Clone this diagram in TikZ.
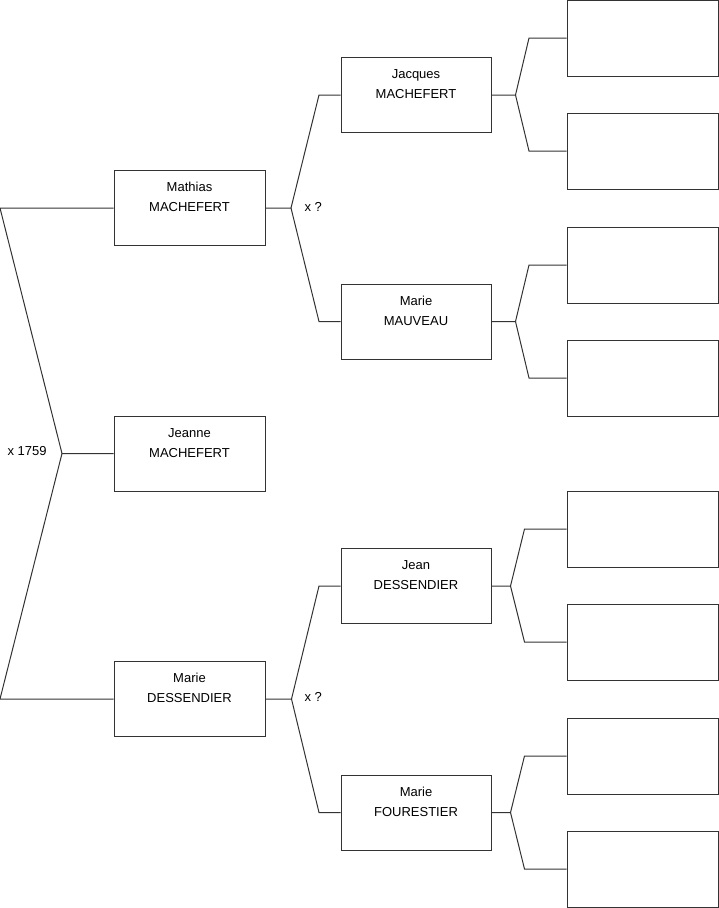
\documentclass[tikz,border=0pt]{standalone}
\usepackage{fontspec}
\setmainfont{Liberation Sans}
\usepackage{tikz}
\usetikzlibrary{positioning}

\begin{document}
\begin{tikzpicture}[x=1pt,y=-1pt,line width=1pt,
  every node/.style={font=\fontsize{13}{20}\selectfont},
  box/.style={draw=black!80,minimum width=151pt,minimum height=75pt,inner sep=0pt},
  who/.style={align=center,inner sep=0pt},
  link/.style={draw=black!80},
  union/.style={anchor=west,inner sep=0pt}]
\useasboundingbox (0,0) rectangle (719,908);
% generation 1 and 2
\node[box] (jeanne) at (189.5,453.5) {};
\node[who] (jeanneT) at ([yshift=10pt]jeanne.center) {Jeanne\\MACHEFERT};
\node[box] (mathias) at (189.5,208) {};
\node[who] (mathiasT) at ([yshift=11pt]mathias.center) {Mathias\\MACHEFERT};
\node[box] (mdess) at (189.5,699) {};
\node[who] (mdessT) at ([yshift=11pt]mdess.center) {Marie\\DESSENDIER};
% generation 3
\node[box,minimum width=150pt] (jacques) at (416,95) {};
\node[who] (jacquesT) at ([yshift=11pt]jacques.center) {Jacques\\MACHEFERT};
\node[box,minimum width=150pt] (mauveau) at (416,321.5) {};
\node[who] (mauveauT) at ([yshift=11pt]mauveau.center) {Marie\\MAUVEAU};
\node[box,minimum width=150pt] (jean) at (416,586) {};
\node[who] (jeanT) at ([yshift=11pt]jean.center) {Jean\\DESSENDIER};
\node[box,minimum width=150pt] (fourest) at (416,812.5) {};
\node[who] (fourestT) at ([yshift=11pt]fourest.center) {Marie\\FOURESTIER};
% generation 4 (empty)
\node[box,minimum height=76pt] (g1) at (642.5,38) {};
\node[box,minimum height=76pt] (g2) at (642.5,151) {};
\node[box,minimum height=76pt] (g3) at (642.5,265) {};
\node[box,minimum height=76pt] (g4) at (642.5,378) {};
\node[box,minimum height=76pt] (g5) at (642.5,529) {};
\node[box,minimum height=76pt] (g6) at (642.5,642) {};
\node[box,minimum height=76pt] (g7) at (642.5,756) {};
\node[box,minimum height=76pt] (g8) at (642.5,869) {};
% fork points
\coordinate (fj) at (62,453.5);
\coordinate (fm) at (291,208);
\coordinate (fd) at (291.5,699);
\coordinate (fjq) at (515.5,95);
\coordinate (fmv) at (515.5,321.5);
\coordinate (fje) at (510.5,586);
\coordinate (ffo) at (510.5,812.5);
% marriage labels
\node[union] (u1) at (7,451) {x 1759};
\node[union] (u2) at (304,207) {x ?};
\node[union] (u3) at (304,697) {x ?};
% links
\draw[link] (jeanne.west) -- (fj) -- (0,208) -- (mathias.west);
\draw[link] (fj) -- (0,699) -- (mdess.west);
\draw[link] (mathias.east) -- (fm) -- (319,95) -- (jacques.west);
\draw[link] (fm) -- (319,321.5) -- (mauveau.west);
\draw[link] (mdess.east) -- (fd) -- (319,586) -- (jean.west);
\draw[link] (fd) -- (319,812.5) -- (fourest.west);
\draw[link] (jacques.east) -- (fjq) -- (529,38) -- (g1.west);
\draw[link] (fjq) -- (529,151) -- (g2.west);
\draw[link] (mauveau.east) -- (fmv) -- (529,265) -- (g3.west);
\draw[link] (fmv) -- (529,378) -- (g4.west);
\draw[link] (jean.east) -- (fje) -- (524.5,529) -- (g5.west);
\draw[link] (fje) -- (524.5,642) -- (g6.west);
\draw[link] (fourest.east) -- (ffo) -- (524.5,756) -- (g7.west);
\draw[link] (ffo) -- (524.5,869) -- (g8.west);
\end{tikzpicture}
\end{document}
